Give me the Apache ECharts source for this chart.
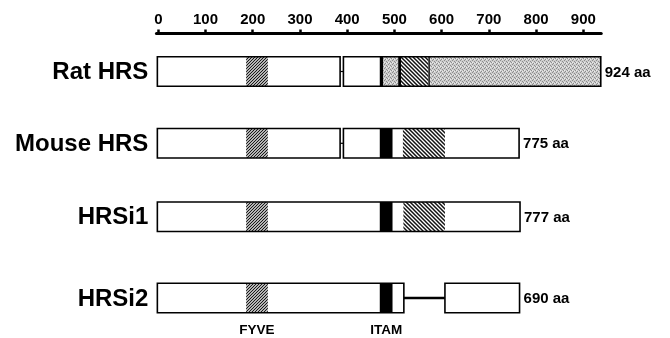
<!DOCTYPE html>
<html><head><meta charset="utf-8">
<script src="https://cdn.jsdelivr.net/npm/echarts@6/dist/echarts.min.js"></script>
<style>html,body{margin:0;padding:0;background:#fff}#c{width:670px;height:338px}</style>
</head><body><div id="c"></div>
<script>
// ---------- data (amino-acid positions) ----------
const proteins = ['Rat HRS', 'Mouse HRS', 'HRSi1', 'HRSi2'];
const lengthLabels = ['924 aa', '775 aa', '777 aa', '690 aa'];
const axisTicks = [0, 100, 200, 300, 400, 500, 600, 700, 800, 900];
// white boxes (exons/blocks) for each protein
const segments = [
  [[-2, 385], [392, 937]],
  [[-2, 385], [392, 764]],
  [[-2, 766]],
  [[-2, 520], [607, 765]]
];
const fyveDomain = [[186, 232], [186, 232], [186, 232], [186, 232]];
const itamDomain = [[469, 476], [469, 496], [469, 496], [469, 496]];
const hatchDomain = [[514, 572], [518, 607], [519, 607], null];
const stippleDomain = [[[476, 508], [575, 937]], [], [], []];
const darkBands = [[[508, 514], [572, 575]], [], [], []];
const domainLabels = ['FYVE', 'ITAM'];

// ---------- layout / style ----------
const K = 425 / 900;          // px per aa
const X0 = 158.3;             // pixel of aa 0
const xMin = -4, xMax = 938;
const gridLeft = X0 + xMin * K;
const gridRight = 670 - (X0 + xMax * K);
const ROW_NUDGE = [0, -4.2, -6.8, -1.5];
const BAR_H = 29.5;
const CONNECTOR_W = [1.2, 1.2, 1.2, 2.5];
const FONT = '"Liberation Sans", Arial, Helvetica, sans-serif';

function makePattern(size, draw) {
  const c = document.createElement('canvas');
  c.width = size; c.height = size;
  const g = c.getContext('2d');
  draw(g, size);
  return { image: c, repeat: 'repeat' };
}
function diag(g, p, forward, lw, color) {
  g.fillStyle = '#fff'; g.fillRect(0, 0, p, p);
  g.strokeStyle = color; g.lineWidth = lw;
  g.beginPath();
  if (forward) {
    g.moveTo(0, p); g.lineTo(p, 0);
    g.moveTo(-1, 1); g.lineTo(1, -1);
    g.moveTo(p - 1, p + 1); g.lineTo(p + 1, p - 1);
  } else {
    g.moveTo(0, 0); g.lineTo(p, p);
    g.moveTo(-1, p - 1); g.lineTo(1, p + 1);
    g.moveTo(p - 1, -1); g.lineTo(p + 1, 1);
  }
  g.stroke();
}
const fyvePattern = makePattern(3, (g, p) => diag(g, p, true, 1.2, '#111'));
const hatchPattern = makePattern(4, (g, p) => diag(g, p, false, 1.5, '#111'));
const stipplePattern = makePattern(4, (g) => {
  g.fillStyle = '#cdcdcd'; g.fillRect(0, 0, 4, 4);
  g.fillStyle = '#8c8c8c';
  [[0,0],[2,1],[1,3],[3,2]].forEach(([a,b]) => g.fillRect(a, b, 1, 1));
  g.fillStyle = '#ececec';
  [[2,3],[0,2]].forEach(([a,b]) => g.fillRect(a, b, 1, 1));
});

function renderItem(params, api) {
  const r = api.value(0);
  const cy = api.coord([0, r])[1] + ROW_NUDGE[r];
  const px = v => api.coord([v, r])[0];
  const top = cy - BAR_H / 2;
  const ch = [];
  const rect = (s, fill, stroke, lw) => ({
    type: 'rect',
    shape: { x: px(s[0]), y: top, width: px(s[1]) - px(s[0]), height: BAR_H },
    style: { fill: fill, stroke: stroke || null, lineWidth: lw || 0 }
  });
  const segs = segments[r];
  for (let i = 0; i < segs.length - 1; i++) {
    ch.push({ type: 'line', shape: { x1: px(segs[i][1]), y1: cy, x2: px(segs[i + 1][0]), y2: cy },
      style: { stroke: '#000', lineWidth: CONNECTOR_W[r] } });
  }
  segs.forEach(s => ch.push(rect(s, '#fff')));
  stippleDomain[r].forEach(s => ch.push(rect(s, stipplePattern)));
  if (hatchDomain[r]) ch.push(rect(hatchDomain[r], hatchPattern));
  ch.push(rect(fyveDomain[r], fyvePattern));
  ch.push(rect(itamDomain[r], '#000'));
  darkBands[r].forEach(s => ch.push(rect(s, '#000')));
  segs.forEach(s => ch.push(rect(s, 'none', '#000', 1.6)));
  // protein name
  ch.push({ type: 'text', x: px(segs[0][0]) - 9, y: cy + 1,
    style: { text: proteins[r], fill: '#000', font: 'bold 24px ' + FONT, align: 'right', verticalAlign: 'middle' } });
  // length label
  const end = segs[segs.length - 1][1];
  ch.push({ type: 'text', x: px(end) + 4, y: cy + 1,
    style: { text: lengthLabels[r], fill: '#000', font: 'bold 15px ' + FONT, align: 'left', verticalAlign: 'middle' } });
  // domain labels under last row
  if (r === proteins.length - 1) {
    [fyveDomain[r], itamDomain[r]].forEach((d, i) => {
      ch.push({ type: 'text', x: (px(d[0]) + px(d[1])) / 2, y: cy + 32,
        style: { text: domainLabels[i], fill: '#000', font: 'bold 13.5px ' + FONT, align: 'center', verticalAlign: 'middle' } });
    });
  }
  return { type: 'group', children: ch };
}

const chart = echarts.init(document.getElementById('c'), null, { renderer: 'canvas' });
chart.setOption({
  animation: false,
  backgroundColor: '#fff',
  grid: { left: gridLeft, right: gridRight, top: 33.5, bottom: 0.5, containLabel: false, outerBoundsMode: 'none' },
  xAxis: {
    type: 'value', position: 'top', min: xMin, max: xMax,
    axisLine: { show: true, onZero: false, lineStyle: { color: '#000', width: 3 } },
    axisTick: { show: true, customValues: axisTicks, length: 4, inside: false, lineStyle: { color: '#000', width: 2.5 } },
    axisLabel: { show: true, customValues: axisTicks, color: '#000', fontWeight: 'bold', fontSize: 15, fontFamily: FONT, margin: 6 },
    splitLine: { show: false }
  },
  yAxis: { type: 'value', min: -0.5, max: 3.5, inverse: true, show: false },
  series: [{
    type: 'custom',
    clip: false,
    silent: true,
    renderItem: renderItem,
    data: proteins.map((p, i) => [i])
  }]
});
</script>
</body></html>
